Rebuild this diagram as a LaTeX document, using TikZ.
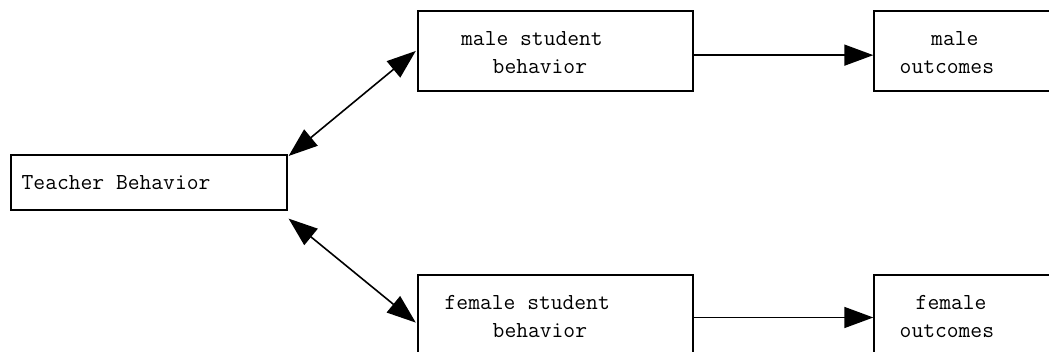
\documentclass[tikz,border=0pt]{standalone}
\usepackage{fontspec}
\usetikzlibrary{arrows.meta}
\begin{document}
\begin{tikzpicture}[x=1pt,y=-1pt,
  box/.style={draw=black,line width=1.6pt,rectangle,inner sep=0pt,anchor=north west},
  lbl/.style={inner sep=0pt,anchor=base west,font=\ttfamily\fontsize{22.9}{28}\selectfont},
  conn/.style={line width=1.6pt,-{Triangle[length=29pt,width=21pt]}},
  bconn/.style={line width=1.6pt,{Triangle[length=29pt,width=21pt]}-{Triangle[length=29pt,width=21pt]}}]
\useasboundingbox (0,0) rectangle (1049,352);
\clip (0,0) rectangle (1049,352);
% boxes
\node[box,minimum width=276pt,minimum height=55pt] (tb) at (10,154) {};
\node[box,minimum width=275pt,minimum height=79.7pt] (msb) at (417.3,10.3) {};
\node[box,minimum width=220pt,minimum height=79.7pt] (mo) at (873.3,10.3) {};
\node[box,minimum width=275pt,minimum height=80pt] (fsb) at (417.3,274.3) {};
\node[box,minimum width=220pt,minimum height=80pt] (fo) at (873.3,274.3) {};
% texts
\node[lbl] (t1) at (21.5,190) {Teacher Behavior};
\node[lbl] (t2) at (461,45.7) {male student};
\node[lbl] (t3) at (492.5,74) {behavior};
\node[lbl] (t4) at (931,45.7) {male};
\node[lbl] (t5) at (899.5,74) {outcomes};
\node[lbl] (t6) at (444.5,309.5) {female student};
\node[lbl] (t7) at (492.5,337.5) {behavior};
\node[lbl] (t8) at (915.5,309.5) {female};
\node[lbl] (t9) at (899.5,337.5) {outcomes};
% connectors
\draw[conn] ([yshift=-4.2pt]msb.east) -- ([yshift=-4.2pt]mo.west);
\draw[conn] ([yshift=-2.4pt]fsb.east) -- ([yshift=-2.4pt]fo.west);
\draw[bconn] ([shift={(1pt,-2pt)}]tb.north east) -- ([xshift=-1.5pt]msb.west);
\draw[bconn] ([shift={(1pt,-8pt)}]tb.south east) -- ([shift={(-1.5pt,-7.5pt)}]fsb.west);
\end{tikzpicture}
\end{document}
